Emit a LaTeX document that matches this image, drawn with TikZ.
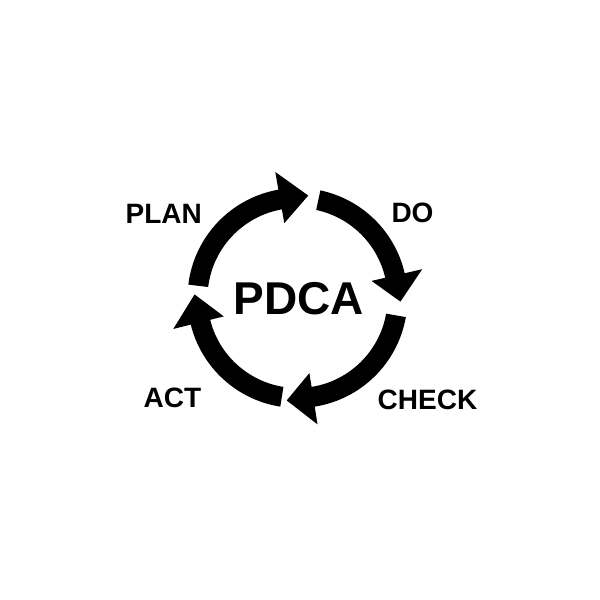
\documentclass[tikz,border=0pt]{standalone}
\usepackage{fontspec}
\setmainfont{Liberation Sans}
\newcommand\pdcaarrow[3]{%
  \fill[black] (#1:110pt) arc[start angle=#1, end angle=#2, radius=110pt]
    -- (#2:128pt) -- (#3:103pt) -- (#2:76pt) -- (#2:90pt)
    arc[start angle=#2, end angle=#1, radius=90pt] -- cycle;}
\tikzset{lbl/.style={font=\bfseries\fontsize{28}{28}\selectfont, inner sep=0pt, text=black},
         big/.style={font=\bfseries\fontsize{46}{46}\selectfont, inner sep=0pt, text=black}}
\begin{document}
\begin{tikzpicture}[x=1pt,y=1pt]
\useasboundingbox[fill=white] (-297.5,-302) rectangle (302.5,298);
\pdcaarrow{173}{100}{84}
\pdcaarrow{78}{13}{-2}
\pdcaarrow{350}{279}{264}
\pdcaarrow{261}{194}{178}
\node[big] (pdca) at (1,-1) {PDCA};
\node[lbl] (plan) at (-133.8,84.2) {PLAN};
\node[lbl] (do) at (115,85.5) {DO};
\node[lbl] (act) at (-125,-99.5) {ACT};
\node[lbl] (check) at (130,-102) {CHECK};
\end{tikzpicture}
\end{document}
